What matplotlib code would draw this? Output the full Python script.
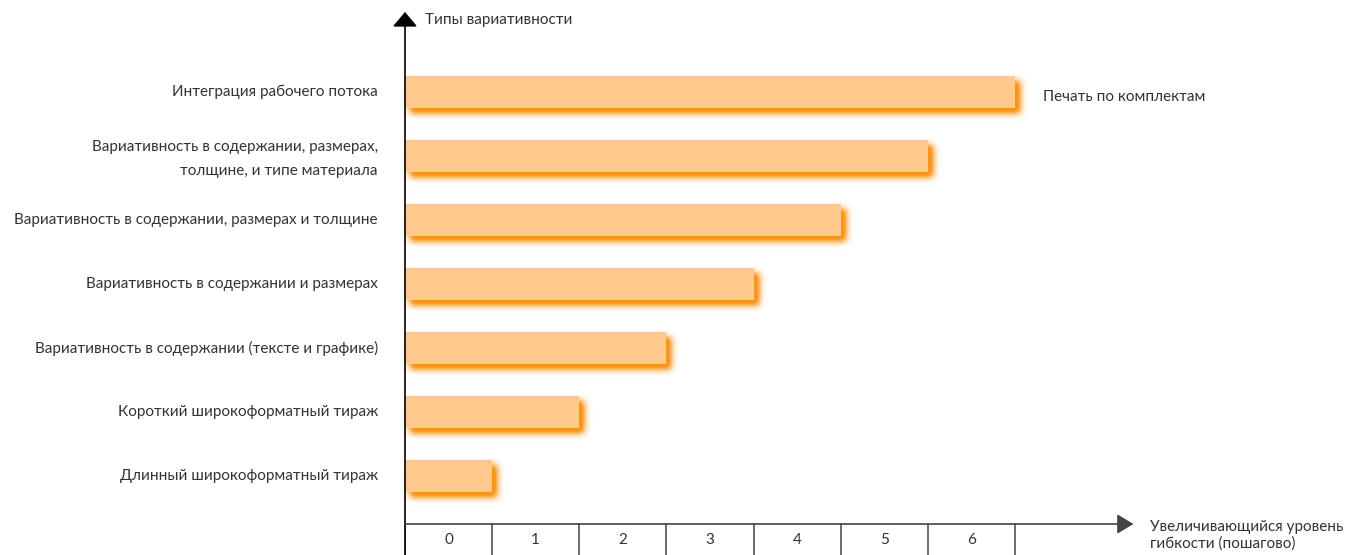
import numpy as np
import matplotlib
matplotlib.use("Agg")
import matplotlib.pyplot as plt

plt.rcParams['font.family'] = ['Lato', 'DejaVu Sans']

# categories from bottom to top
categories = [
    "Длинный широкоформатный тираж",
    "Короткий широкоформатный тираж",
    "Вариативность в содержании (тексте и графике)",
    "Вариативность в содержании и размерах",
    "Вариативность в содержании, размерах и толщине",
    "Вариативность в содержании, размерах,\nтолщине, и типе материала",
    "Интеграция рабочего потока",
]
levels = [1, 2, 3, 4, 5, 6, 7]
tick_labels = ["0", "1", "2", "3", "4", "5", "6"]

bar_color = "#FFC98B"
shadow_color = "#F7961A"
text_color = "#333333"

W, H, DPI = 1349, 555, 100
fig = plt.figure(figsize=(W / DPI, H / DPI), dpi=DPI)

# background axes for the soft shadow image
bg = fig.add_axes([0, 0, 1, 1], zorder=0)
bg.set_xlim(0, W)
bg.set_ylim(0, H)
bg.axis("off")

ax = fig.add_axes([405 / W, 0, (1135 - 405) / W, 1], zorder=1)
ax.patch.set_alpha(0)
ax.set_xlim(0, (1135 - 405) / 87.14)
ax.set_ylim(-79 / 64, (555 - 79) / 64)
ax.axis("off")

y = np.arange(len(categories))
bar_h = 0.5
ax.barh(y, levels, height=bar_h, left=0, color=bar_color, zorder=3)

# blurred orange shadow, offset down-right from each bar
fig.canvas.draw()
mask = np.zeros((H, W))
for yi, lv in zip(y, levels):
    (x0, y0), (x1, y1) = ax.transData.transform([(0, yi - bar_h / 2), (lv, yi + bar_h / 2)])
    c0, c1 = int(round(x0)) + 5, int(round(x1)) + 5
    r0, r1 = int(round(H - y1)) + 5, int(round(H - y0)) + 5
    mask[r0:r1, c0:c1] = 1.0

sig = 3.6
k = np.arange(-13, 14)
kern = np.exp(-k ** 2 / (2 * sig ** 2))
kern /= kern.sum()
mask = np.apply_along_axis(lambda r: np.convolve(r, kern, mode="same"), 1, mask)
mask = np.apply_along_axis(lambda c: np.convolve(c, kern, mode="same"), 0, mask)

rgba = np.zeros((H, W, 4))
rgba[..., :3] = matplotlib.colors.to_rgb(shadow_color)
rgba[..., 3] = np.clip(mask * 1.4, 0, 1)
bg.imshow(rgba, extent=(0, W, 0, H), origin="upper", interpolation="nearest", aspect="auto")

# category labels
for yi, name in zip(y, categories):
    dy = -0.05 if "\n" in name else 0
    ax.text(-0.31, yi + dy, name, ha="right", va="center", fontsize=11,
            color=text_color, linespacing=1.95, clip_on=False)

ax.text(7.32, y[-1] - 0.08, "Печать по комплектам", ha="left", va="center",
        fontsize=11, color=text_color)

# axes with arrows
y_axis = -0.75
ybot = ax.get_ylim()[0]
ax.annotate("", xy=(0, 7.25), xytext=(0, ybot),
            arrowprops=dict(arrowstyle="-|>,head_length=0.45,head_width=0.38",
                            color="black", lw=1.2, mutation_scale=20,
                            shrinkA=0, shrinkB=0), zorder=5)
ax.annotate("", xy=(8.36, y_axis), xytext=(0, y_axis),
            arrowprops=dict(arrowstyle="-|>,head_length=0.5,head_width=0.3",
                            color="#444444", lw=1.2, mutation_scale=20,
                            shrinkA=0, shrinkB=0), zorder=5)
ax.text(0.23, 7.12, "Типы вариативности", ha="left", va="center",
        fontsize=11, color=text_color)
ax.text(8.55, -0.93, "Увеличивающийся уровень\nгибкости (пошагово)",
        ha="left", va="center", fontsize=11, color=text_color,
        linespacing=1.25, clip_on=False)

# level cells under the horizontal axis
for i in range(len(tick_labels) + 1):
    ax.plot([i, i], [y_axis, ybot], color="#444444", lw=1.1, zorder=4)
for i, lab in enumerate(tick_labels):
    ax.text(i + 0.5, -1.0, lab, ha="center", va="center", fontsize=11,
            color=text_color)

fig.savefig("out.png", dpi=DPI)
